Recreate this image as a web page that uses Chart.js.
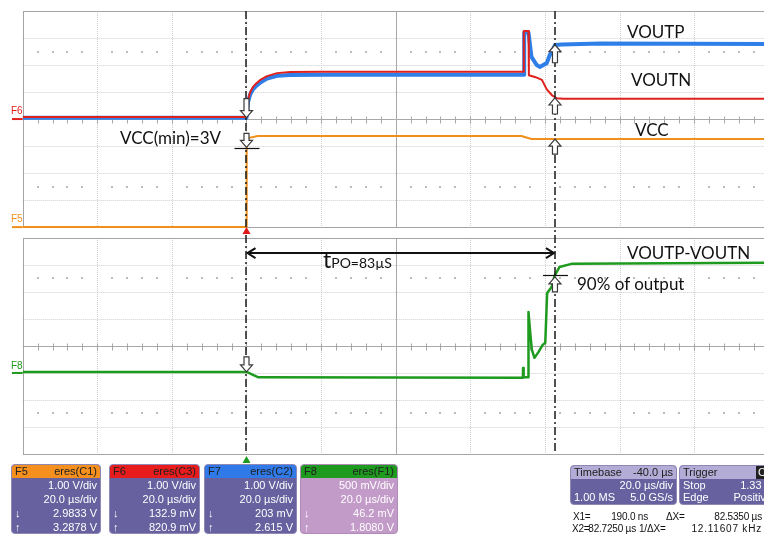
<!DOCTYPE html>
<html>
<head>
<meta charset="utf-8">
<title>Power-on timing</title>
<script src="https://cdn.jsdelivr.net/npm/chart.js@4.4.0/dist/chart.umd.min.js"></script>
<style>
    html, body { margin: 0; padding: 0; background: #fff; }
    body { width: 764px; height: 534px; overflow: hidden; position: relative; font-family: "Liberation Sans", Arial, sans-serif; }
    #scope { position: absolute; left: 0; top: 0; }
    .lbl { position: absolute; font-family: Lato, "Open Sans", sans-serif; font-size: 17px; line-height: 20px; color: #111; white-space: nowrap; }
    .tag { position: absolute; font-size: 10px; line-height: 10px; }
    .box { position: absolute; top: 464px; height: 68px; background: #67619f; border: 1px solid #8d89b4; border-radius: 4px; overflow: hidden; color: #fff; font-size: 11px; }
    .box .hdr { height: 13px; line-height: 13px; padding: 0 3px; display: flex; justify-content: space-between; color: #202020; border-radius: 3px 3px 0 0; }
    .box .row { height: 14px; line-height: 14px; padding: 0 3px; display: flex; justify-content: space-between; }
    .box .row span:only-child { margin-left: auto; }
    .meas { position: absolute; font-size: 10px; line-height: 12px; color: #111; white-space: nowrap; letter-spacing: -0.2px; }
    .r { text-align: right; }
</style>
</head>
<body>
<canvas id="scope" width="770" height="534"></canvas>

<!-- trace annotations -->
<div class="lbl" style="left:627px; top:22px;">VOUTP</div>
<div class="lbl" style="left:631px; top:70px;">VOUTN</div>
<div class="lbl" style="left:635px; top:120px;">VCC</div>
<div class="lbl" style="left:120px; top:128px;">VCC(min)=3V</div>
<div class="lbl" style="left:627px; top:243px;">VOUTP-VOUTN</div>
<div class="lbl" style="left:577px; top:274px;">90% of output</div>
<div class="lbl" style="left:323px; top:249px; font-size:23px;">t<span style="font-size:14px;">PO=83µS</span></div>

<!-- channel ground tags -->
<div class="tag" style="left:11px; top:106px; color:#e0201c;">F6</div>
<div class="tag" style="left:11px; top:214px; color:#f0901c;">F5</div>
<div class="tag" style="left:11px; top:361px; color:#1e9a1e;">F8</div>

<!-- channel descriptor boxes -->
<div class="box" style="left:11px; width:88px;">
    <div class="hdr" style="background:#f5901e;"><span>F5</span><span>eres(C1)</span></div>
    <div class="row"><span>1.00 V/div</span></div>
    <div class="row"><span>20.0 µs/div</span></div>
    <div class="row"><span>↓</span><span>2.9833 V</span></div>
    <div class="row"><span>↑</span><span>3.2878 V</span></div>
</div>
<div class="box" style="left:109px; width:89px;">
    <div class="hdr" style="background:#e81c1c;"><span>F6</span><span>eres(C3)</span></div>
    <div class="row"><span>1.00 V/div</span></div>
    <div class="row"><span>20.0 µs/div</span></div>
    <div class="row"><span>↓</span><span>132.9 mV</span></div>
    <div class="row"><span>↑</span><span>820.9 mV</span></div>
</div>
<div class="box" style="left:204px; width:91px;">
    <div class="hdr" style="background:#2f7ae8;"><span>F7</span><span>eres(C2)</span></div>
    <div class="row"><span>1.00 V/div</span></div>
    <div class="row"><span>20.0 µs/div</span></div>
    <div class="row"><span>↓</span><span>203 mV</span></div>
    <div class="row"><span>↑</span><span>2.615 V</span></div>
</div>
<div class="box" style="left:300px; width:96px; background:#c39bc9; border-color:#b08ab8;">
    <div class="hdr" style="background:#1e9a1e;"><span>F8</span><span>eres(F1)</span></div>
    <div class="row"><span>500 mV/div</span></div>
    <div class="row"><span>20.0 µs/div</span></div>
    <div class="row"><span>↓</span><span>46.2 mV</span></div>
    <div class="row"><span>↑</span><span>1.8080 V</span></div>
</div>

<!-- timebase / trigger -->
<div class="box" style="left:570px; width:105px; height:38px; top:465px;">
    <div class="hdr" style="background:#b3acd6;"><span>Timebase</span><span>-40.0 µs</span></div>
    <div class="row" style="height:12px; line-height:12px;"><span>20.0 µs/div</span></div>
    <div class="row" style="height:12px; line-height:12px;"><span>1.00 MS</span><span>5.0 GS/s</span></div>
</div>
<div class="box" style="left:679px; width:95px; height:38px; top:465px;">
    <div class="hdr" style="background:#b3acd6;"><span>Trigger</span><span style="background:#222; color:#fff; padding:0 2px; margin-right:4px;">C</span></div>
    <div class="row" style="height:12px; line-height:12px;"><span>Stop</span><span>1.33 V</span></div>
    <div class="row" style="height:12px; line-height:12px;"><span>Edge</span><span>Positive</span></div>
</div>

<!-- cursor readout -->
<div class="meas" style="left:573px; top:511px;">X1=</div>
<div class="meas r" style="left:598px; top:511px; width:50px;">190.0 ns</div>
<div class="meas" style="left:666px; top:511px;">ΔX=</div>
<div class="meas r" style="left:692px; top:511px; width:70px;">82.5350 µs</div>
<div class="meas" style="left:572px; top:523px;">X2=</div>
<div class="meas r" style="left:586px; top:523px; width:50px;">82.7250 µs</div>
<div class="meas" style="left:639px; top:523px;">1/ΔX=</div>
<div class="meas r" style="left:672px; top:523px; width:90px; letter-spacing:0.8px;">12.11607 kHz</div>

<script>
// Time base: 20 us/div, 10 divisions, trigger 3 div from the left
const T_MIN = -60;
const T_MAX = 140;
const T_DIV = 20;
const CURSOR_1 = 0;
const CURSOR_2 = 82.7;

// Vertical layout in divisions, counted from the top of the plot
const PANEL_DIVS = 8;
const GAP_DIVS = 0.4;
const TOTAL_DIVS = PANEL_DIVS * 2 + GAP_DIVS;
const PANEL_TOPS = [0, PANEL_DIVS + GAP_DIVS];

// F5 - VCC (us, V)
const tVcc = [-60, 0, 0.05, 0.6, 1.5, 3, 73.7, 76.4, 140];
const vVcc = [0, 0, 3.45, 3.3, 3.33, 3.37, 3.37, 3.26, 3.26];

// F6 - VOUTN (us, V)
const tVoutn = [-60, 0, 0.4, 1.0, 1.74, 2.6, 3.6, 5.5, 8.2, 11.7, 20, 74.3, 74.35, 75.6, 75.7, 77.5, 79.2, 80.5, 81.9, 83.2, 85, 140];
const vVoutn = [0.08, 0.08, 0.7, 1.0, 1.19, 1.32, 1.44, 1.59, 1.7, 1.74, 1.75, 1.75, 3.26, 3.26, 1.62, 1.55, 1.45, 1.1, 0.88, 0.77, 0.75, 0.75];

// F7 - VOUTP (us, V)
const tVoutp = [-60, 0, 0.4, 1.0, 1.74, 2.6, 3.6, 5.5, 8.2, 11.7, 20, 74.4, 74.45, 75.6, 76.4, 77.8, 78.6, 80.5, 81.3, 81.9, 82.7, 84.5, 95, 140];
const vVoutp = [0.05, 0.05, 0.62, 0.92, 1.1, 1.23, 1.34, 1.5, 1.6, 1.63, 1.64, 1.64, 3.2, 3.2, 2.3, 2.0, 1.93, 2.07, 2.37, 2.48, 2.74, 2.76, 2.8, 2.78];

// F8 - VOUTP-VOUTN (us, V)
const tDiff = [-60, 0, 1.6, 3.2, 74.1, 74.15, 74.3, 75.5, 75.6, 76.0, 76.5, 77.2, 78.3, 79.4, 80.1, 80.6, 81.8, 82.6, 83.9, 87.1, 140];
const vDiff = [0.02, 0.02, -0.03, -0.08, -0.09, 0.09, -0.08, -0.08, 1.13, 0.8, 0.43, 0.28, 0.39, 0.52, 0.56, 1.48, 1.59, 1.8, 1.96, 2.02, 2.04];

// Cursor arrows on the traces: axis, time, level, direction (1 = down)
const cursorMarks = [
    { axis: 'yF6', t: CURSOR_1, v: 0.05, dir: 1, len: 19 },
    { axis: 'yF5', t: CURSOR_1, v: 2.95, dir: 1, len: 14 },
    { axis: 'yF8', t: CURSOR_1, v: 0.02, dir: 1, len: 15 },
    { axis: 'yF7', t: CURSOR_2, v: 2.75, dir: -1, len: 18 },
    { axis: 'yF6', t: CURSOR_2, v: 0.78, dir: -1, len: 16 },
    { axis: 'yF5', t: CURSOR_2, v: 3.26, dir: -1, len: 15 },
    { axis: 'yF8', t: CURSOR_2, v: 1.78, dir: -1, len: 15 }
];

// Short level markers (VCC min, 90 % of output)
const levelMarks = [
    { axis: 'yF5', t: CURSOR_1, v: 2.93 },
    { axis: 'yF8', t: CURSOR_2, v: 1.81 }
];
const TPO_LEVEL = 2.22; // on the F8 axis

function toPoints(ts, vs) {
    return ts.map((t, i) => ({ x: t, y: vs[i] }));
}

// Volt axis for a channel: volts per division and ground position in divisions from top
function voltAxis(voltsPerDiv, groundDiv) {
    return {
        type: 'linear',
        display: false,
        min: -(TOTAL_DIVS - groundDiv) * voltsPerDiv,
        max: groundDiv * voltsPerDiv
    };
}

function crisp(v) {
    return Math.round(v) + 0.5;
}

function hollowArrow(ctx, x, tipY, dir, len) {
    const hw = 6, sw = 2.5, hl = 7;
    const neck = tipY - dir * hl;
    const base = tipY - dir * len;
    ctx.beginPath();
    ctx.moveTo(x, tipY);
    ctx.lineTo(x - hw, neck);
    ctx.lineTo(x - sw, neck);
    ctx.lineTo(x - sw, base);
    ctx.lineTo(x + sw, base);
    ctx.lineTo(x + sw, neck);
    ctx.lineTo(x + hw, neck);
    ctx.closePath();
    ctx.fillStyle = '#ffffff';
    ctx.fill();
    ctx.strokeStyle = '#3a3a3a';
    ctx.lineWidth = 1.2;
    ctx.stroke();
}

// Graticule: dotted divisions, solid centre axes with sub-division ticks
const scopeGrid = {
    id: 'scopeGrid',
    beforeDatasetsDraw(chart) {
        const ctx = chart.ctx;
        const x = chart.scales.x;
        const yDiv = chart.scales.yDiv;
        const xl = x.getPixelForValue(T_MIN);
        const xr = x.getPixelForValue(T_MAX);

        PANEL_TOPS.forEach(top => {
            const py = d => yDiv.getPixelForValue(top + d);
            const yt = py(0), yb = py(PANEL_DIVS);
            ctx.save();

            // dotted division lines
            ctx.strokeStyle = '#cdcdcd';
            ctx.lineWidth = 1;
            ctx.setLineDash([1, 1]);
            for (let i = 1; i < 10; i++) {
                if (i === 5) continue;
                const px = crisp(x.getPixelForValue(T_MIN + i * T_DIV));
                ctx.beginPath(); ctx.moveTo(px, yt); ctx.lineTo(px, yb); ctx.stroke();
            }
            for (let j = 1; j < PANEL_DIVS; j++) {
                if (j === 4) continue;
                const pyj = crisp(py(j));
                ctx.beginPath(); ctx.moveTo(xl, pyj); ctx.lineTo(xr, pyj); ctx.stroke();
            }
            ctx.setLineDash([]);

            // sub-division dots
            ctx.fillStyle = '#bcbcbc';
            [1.5, 6.5].forEach(row => {
                const pyr = Math.round(py(row));
                for (let k = 1; k < 50; k++) {
                    if (k % 5 === 0) continue;
                    const px = Math.round(x.getPixelForValue(T_MIN + k * T_DIV / 5));
                    ctx.fillRect(px - 1, pyr - 1, 2, 2);
                }
            });

            // centre axes
            ctx.strokeStyle = '#a8a8a8';
            ctx.lineWidth = 1;
            const cx = crisp(x.getPixelForValue((T_MIN + T_MAX) / 2));
            const cy = crisp(py(4));
            ctx.beginPath();
            ctx.moveTo(cx, yt); ctx.lineTo(cx, yb);
            ctx.moveTo(xl, cy); ctx.lineTo(xr, cy);
            for (let k = 1; k < 50; k++) {
                const px = crisp(x.getPixelForValue(T_MIN + k * T_DIV / 5));
                ctx.moveTo(px, cy - 3); ctx.lineTo(px, cy + 4);
            }
            ctx.stroke();

            // panel border
            ctx.strokeStyle = '#a4a4a4';
            ctx.strokeRect(crisp(xl), crisp(yt), xr - xl, Math.round(yb - yt));
            ctx.restore();
        });
    },
    afterDatasetsDraw(chart) {
        const ctx = chart.ctx;
        const x = chart.scales.x;
        const yDiv = chart.scales.yDiv;
        const area = chart.chartArea;
        const c1 = x.getPixelForValue(CURSOR_1);
        const c2 = x.getPixelForValue(CURSOR_2);
        ctx.save();

        // channel ground markers at the left edge
        [['yF6', '#e0201c'], ['yF5', '#f0901c'], ['yF8', '#1e9a1e']].forEach(([id, col]) => {
            const gy = chart.scales[id].getPixelForValue(0);
            ctx.strokeStyle = col;
            ctx.lineWidth = 2;
            ctx.beginPath(); ctx.moveTo(12, gy); ctx.lineTo(area.left, gy); ctx.stroke();
        });

        // cursor lines
        ctx.strokeStyle = '#1a1a1a';
        ctx.lineWidth = 1.5;
        ctx.setLineDash([8, 3, 2, 3]);
        [c1, c2].forEach(cx => {
            ctx.beginPath(); ctx.moveTo(Math.round(cx), area.top); ctx.lineTo(Math.round(cx), area.bottom); ctx.stroke();
        });
        ctx.setLineDash([]);

        // trigger markers
        const trig = (py, col) => {
            ctx.fillStyle = col;
            ctx.beginPath();
            ctx.moveTo(c1, py); ctx.lineTo(c1 - 4, py + 7); ctx.lineTo(c1 + 4, py + 7);
            ctx.closePath(); ctx.fill();
        };
        trig(yDiv.getPixelForValue(PANEL_DIVS), '#e01818');
        trig(yDiv.getPixelForValue(TOTAL_DIVS) + 2, '#1e9a1e');

        // level markers
        ctx.strokeStyle = '#111';
        ctx.lineWidth = 1.2;
        levelMarks.forEach(m => {
            const px = x.getPixelForValue(m.t);
            const py = crisp(chart.scales[m.axis].getPixelForValue(m.v));
            ctx.beginPath(); ctx.moveTo(px - 12, py); ctx.lineTo(px + 13, py); ctx.stroke();
        });

        // tPO double arrow
        const ay = chart.scales.yF8.getPixelForValue(TPO_LEVEL);
        ctx.lineWidth = 2;
        ctx.beginPath();
        ctx.moveTo(c1 + 1, ay); ctx.lineTo(c2 - 1, ay);
        ctx.moveTo(c1 + 9, ay - 5); ctx.lineTo(c1 + 1, ay); ctx.lineTo(c1 + 9, ay + 5);
        ctx.moveTo(c2 - 9, ay - 5); ctx.lineTo(c2 - 1, ay); ctx.lineTo(c2 - 9, ay + 5);
        ctx.stroke();

        // hollow cursor arrows
        cursorMarks.forEach(m => {
            hollowArrow(ctx, x.getPixelForValue(m.t), chart.scales[m.axis].getPixelForValue(m.v), m.dir, m.len);
        });
        ctx.restore();
    }
};

document.addEventListener('DOMContentLoaded', function() {
    const canvas = document.getElementById('scope');

    new Chart(canvas, {
        type: 'line',
        data: {
            datasets: [
                {
                    label: 'VOUTP-VOUTN',
                    data: toPoints(tDiff, vDiff),
                    yAxisID: 'yF8',
                    borderColor: '#1e9a1e',
                    borderWidth: 2.5,
                    order: 3
                },
                {
                    label: 'VCC',
                    data: toPoints(tVcc, vVcc),
                    yAxisID: 'yF5',
                    borderColor: '#f0901c',
                    borderWidth: 2,
                    order: 3
                },
                {
                    label: 'VOUTP',
                    data: toPoints(tVoutp, vVoutp),
                    yAxisID: 'yF7',
                    borderColor: '#2f7fe8',
                    borderWidth: 4,
                    order: 2
                },
                {
                    label: 'VOUTN',
                    data: toPoints(tVoutn, vVoutn),
                    yAxisID: 'yF6',
                    borderColor: '#e0201c',
                    borderWidth: 2,
                    order: 1
                }
            ]
        },
        options: {
            responsive: false,
            animation: false,
            devicePixelRatio: 1,
            layout: { padding: { left: 22.7, top: 11, right: 1.3, bottom: 80 } },
            elements: { point: { radius: 0 }, line: { tension: 0, borderJoinStyle: 'round' } },
            plugins: { legend: { display: false }, tooltip: { enabled: false } },
            scales: {
                x: { type: 'linear', display: false, min: T_MIN, max: T_MAX },
                yDiv: { type: 'linear', display: false, reverse: true, min: 0, max: TOTAL_DIVS },
                yF5: voltAxis(1, PANEL_DIVS),
                yF6: voltAxis(1, 4),
                yF7: voltAxis(1, 4),
                yF8: voltAxis(0.5, TOTAL_DIVS - 3)
            }
        },
        plugins: [scopeGrid]
    });
});
</script>
</body>
</html>
